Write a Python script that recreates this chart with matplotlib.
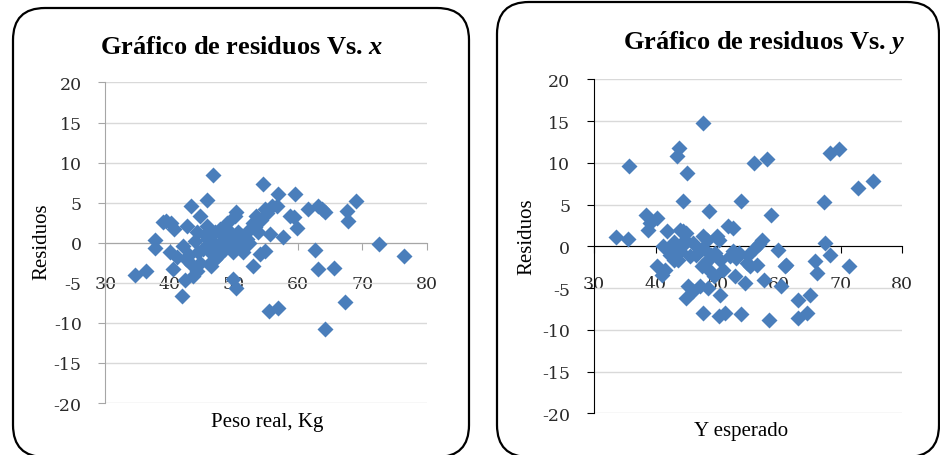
import matplotlib.pyplot as plt
from matplotlib.patches import FancyBboxPatch

# Datos: residuos vs peso real (x)
peso_real = [34.6, 36.4, 37.8, 37.8, 39.0, 39.5, 40.3, 40.7, 40.1, 41.1, 40.6, 41.9, 42.4,
             43.4, 42.7, 42.1, 43.7, 43.4, 44.7, 44.2, 44.5, 44.7, 45.9, 45.8, 46.0, 46.3,
             46.4, 46.8, 47.1, 47.3, 47.6, 47.8, 48.4, 48.6, 48.9, 49.4, 49.7, 49.9, 50.2,
             49.9, 50.4, 50.7, 51.0, 51.5, 52.0, 52.5, 53.0, 53.0, 53.5, 53.8, 54.1, 54.8,
             54.6, 54.8, 55.6, 55.9, 56.7, 56.9, 55.4, 56.9, 57.7, 58.7, 59.3, 59.5, 59.8,
             61.6, 62.6, 63.1, 63.7, 64.2, 63.1, 64.2, 65.6, 67.3, 67.6, 67.8, 69.0, 72.6,
             76.4, 43.0, 44.0, 45.2, 45.5, 46.5, 47.0, 48.0, 48.2, 49.0, 50.5, 51.2, 52.3,
             53.3, 54.3, 55.2, 42.5, 44.2, 46.8, 50.4]
res_x = [-4.0, -3.5, 0.3, -0.7, 2.6, 2.7, 2.5, 1.7, -1.2, -1.8, -3.3, -6.6, -4.7,
         4.6, 2.1, -0.4, -4.1, -2.7, 3.4, 1.3, -1.2, -2.5, 5.3, 2.1, 0.5, -2.5,
         -2.9, 8.4, 1.3, -0.4, -1.6, 1.7, 0.5, -0.8, 2.5, 1.3, -0.4, -1.2, 3.4,
         -4.5, -5.6, 1.3, -0.4, -1.2, 0.5, 1.7, -2.9, 2.5, 3.4, 1.3, -1.4, -1.0,
         7.3, 4.2, 1.1, 4.6, 4.6, 6.1, -8.5, -8.1, 0.7, 3.4, 3.2, 6.1, 1.8,
         4.2, -0.9, 4.6, 4.2, 3.8, -3.3, -10.8, -3.2, -7.4, 4.0, 2.7, 5.2, -0.2,
         -1.7, -1.5, 0.2, -0.8, 1.0, -1.2, -2.0, -0.5, 1.0, 0.0, 0.3, 0.9, 0.0,
         2.0, 2.9, 3.7, -2.0, -3.5, -1.5, 3.8]

# Datos: residuos vs Y esperado
y_esperado = [33.5, 35.5, 35.7, 38.5, 38.8, 39.1, 40.2, 40.2, 41.2, 41.0, 41.8, 42.3, 42.9,
              43.4, 43.8, 43.9, 43.7, 44.5, 44.8, 44.2, 45.1, 45.0, 45.6, 45.3, 45.0, 46.1,
              47.6, 47.2, 47.5, 47.7, 47.7, 48.3, 47.7, 48.7, 48.5, 48.8, 48.5, 49.9, 49.6,
              50.2, 50.4, 50.2, 51.2, 51.0, 51.8, 52.6, 52.6, 52.9, 53.1, 53.9, 53.9, 54.5,
              54.8, 55.3, 55.9, 56.1, 56.4, 57.2, 57.5, 58.1, 58.7, 58.4, 59.9, 60.4, 61.0,
              61.2, 63.1, 63.1, 64.6, 65.0, 65.8, 66.1, 67.3, 67.5, 68.3, 68.2, 69.7, 71.4,
              72.8, 75.3, 42.0, 43.0, 44.0, 46.0, 46.5, 48.0, 49.0, 49.5, 50.5, 52.0, 53.5,
              55.0, 56.8, 44.5, 41.5]
res_y = [1.1, 0.9, 9.6, 3.7, 2.0, 2.8, 3.4, -2.4, 0.0, -3.4, 1.8, -1.0, -1.6,
         10.8, 11.8, 2.0, -1.6, 5.4, 0.8, 0.0, 8.8, 1.6, -1.2, -4.8, -6.2, -5.4,
         14.8, -4.8, -2.4, -8.0, 1.2, 0.8, -0.2, 4.2, -1.6, -3.0, -5.0, 1.2, -0.8,
         0.8, -5.8, -8.4, -8.0, -2.8, 2.4, 2.2, -0.6, -3.6, -1.4, 5.4, -8.1, -4.4,
         -2.0, -2.4, 10.0, -0.2, -2.2, 0.8, -4.0, 10.5, 3.8, -8.8, -0.4, -4.8, -2.4,
         -2.2, -6.4, -8.6, -8.0, -5.8, -1.8, -3.2, 5.3, 0.4, -1.0, 11.2, 11.6, -2.4,
         7.0, 7.8, -0.5, 0.5, -0.6, 0.4, -1.0, -2.0, -1.0, -3.6, -1.6, -1.2, -0.8,
         -1.0, 0.3, 1.8, -2.8]

x_ticks = [30, 40, 50, 60, 70, 80]
y_ticks = [-20, -15, -10, -5, 0, 5, 10, 15, 20]

azul = '#4a7ebb'
serif = 'Liberation Serif'
plt.rcParams['mathtext.fontset'] = 'custom'
plt.rcParams['mathtext.it'] = 'Liberation Serif:bold:italic'
plt.rcParams['axes.unicode_minus'] = False

fig = plt.figure(figsize=(9.4, 4.56), dpi=100)

# marcos redondeados (en pulgadas, 100 px = 1 in)
for x0, y0, x1, y1 in [(13, 9, 469, 458), (497, 3, 939, 458)]:
    caja = FancyBboxPatch((x0 / 100, (456 - y1) / 100), (x1 - x0) / 100, (y1 - y0) / 100,
                          boxstyle="round,pad=0,rounding_size=0.32",
                          transform=fig.dpi_scale_trans, fill=False, ec='black', lw=1.6)
    fig.add_artist(caja)


def panel(pos, xs, ys, color_eje, titulo, tx, ty, xlab, xl, yl, pad_x):
    ax = fig.add_axes(pos)
    ax.plot(xs, ys, linestyle='none', marker='D', ms=7.8, color=azul, mec='none', zorder=3)
    ax.set_xlim(30, 80)
    ax.set_ylim(-20, 20)
    ax.set_xticks(x_ticks)
    ax.set_yticks(y_ticks)
    ax.yaxis.grid(True, color='#d9d9d9', lw=1)
    ax.set_axisbelow(True)
    for s in ['top', 'right']:
        ax.spines[s].set_visible(False)
    ax.spines['bottom'].set_position(('data', 0))
    ax.spines['bottom'].set_color(color_eje)
    ax.spines['left'].set_color(color_eje)
    ax.spines['bottom'].set_zorder(2)
    ax.tick_params(axis='both', direction='out', length=5, color=color_eje,
                   labelsize=12.5, labelcolor='#2a2a2a')
    ax.tick_params(axis='y', pad=12)
    ax.tick_params(axis='x', pad=pad_x)
    for lb in ax.get_xticklabels() + ax.get_yticklabels():
        lb.set_family('DejaVu Serif')
    fig.text(tx / 940, 1 - ty / 456, titulo, ha='center', va='center',
             family=serif, weight='bold', fontsize=19)
    fig.text(xl[0] / 940, 1 - xl[1] / 456, xlab, ha='center', va='center',
             family=serif, fontsize=15)
    fig.text(yl[0] / 940, 1 - yl[1] / 456, 'Residuos', ha='center', va='center',
             rotation=90, family=serif, fontsize=15)
    return ax


panel([0.1120, 0.1140, 0.3419, 0.7029], peso_real, res_x, '#a6a6a6',
      r'Gráfico de residuos Vs. $x$', 242, 47, 'Peso real, Kg', (267, 423), (42, 242), 18)
panel([0.6319, 0.0914, 0.3280, 0.7325], y_esperado, res_y, 'black',
      r'Gráfico de residuos Vs. $y$', 764, 43, 'Y esperado', (741, 432), (527, 237), 16)

fig.savefig('out.png', dpi=100)
